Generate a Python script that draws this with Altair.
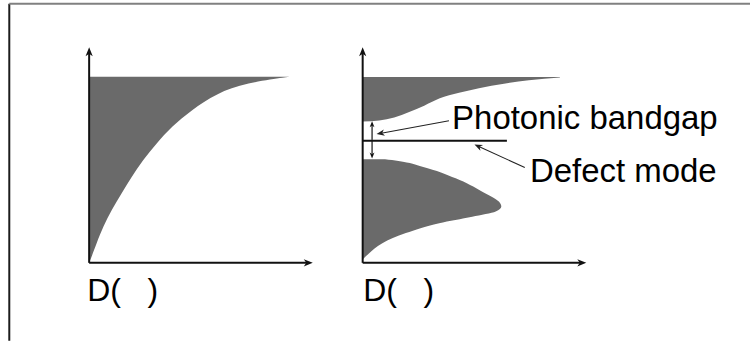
import math
import altair as alt
import pandas as pd

# Panel geometry (plot area of each panel, pixels) and data domains (arbitrary units)
W, H = 224, 216
X_MAX, Y_MAX = 10, 10
KX, KY = W / X_MAX, H / Y_MAX

FILL = "#6a6a6a"
INK = "#111111"
FONT = "Liberation Sans"

# Left panel: density of states of a uniform medium, D vs omega
free_omega = [0, 0.29, 0.91, 1.68, 2.45, 3.22, 3.98, 4.77, 5.54, 6.31, 7.08, 7.86, 8.35, 8.63]
free_dos = [0, 0.11, 0.33, 0.63, 1.0, 1.45, 1.89, 2.41, 3.01, 3.68, 4.57, 5.69, 7.03, 8.96]

# Right panel: upper band, its lower edge as a function of D, flat top at band_top
upper_dos = [0, 0.74, 1.41, 2.08, 2.75, 3.42, 4.31, 5.2, 6.32, 7.43, 8.82]
upper_edge = [6.55, 6.60, 6.74, 6.99, 7.29, 7.62, 7.89, 8.10, 8.31, 8.47, 8.60]
band_top = 8.62

# Right panel: lower band lobe, D as a function of omega
lower_omega = [0.15, 0.45, 0.91, 1.38, 1.84, 2.14, 2.38, 2.61, 2.84, 3.30, 3.92, 4.46, 4.72, 4.80]
lower_dos = [0, 0.29, 0.88, 1.93, 3.42, 4.90, 5.95, 6.20, 6.09, 5.35, 4.16, 2.67, 1.6, 1.0]

# Defect mode inside the gap and the gap marker
defect_omega = 5.66
defect_dos_end = 6.45
gap_x = 0.42
gap_lo, gap_hi = 4.84, 6.57

# Annotations
note_text = ["Photonic bandgap", "Defect mode"]
note_x = [4.0, 7.48]
note_y = [6.2, 3.76]
pointer_from = [(3.86, 6.59), (7.25, 4.42)]
pointer_to = [(0.62, 5.97), (5.0, 5.49)]

axis_label = "D(\u00a0\u00a0\u00a0)"
axis_label_y = -1.75

# Arrowhead glyph: tip at the origin, body extending along +y (pointing "up" at angle 0)
HEAD = "M0,0 L-0.4,1 L0,0.72 L0.4,1 Z"

xs = alt.Scale(domain=[0, X_MAX])
ys = alt.Scale(domain=[0, Y_MAX])


def X(f="x"):
    return alt.X(f"{f}:Q", scale=xs, axis=None)


def Y(f="y"):
    return alt.Y(f"{f}:Q", scale=ys, axis=None)


def arrows(starts, tips, head_px, width, color=INK):
    shafts, heads = [], []
    for (x0, y0), (x1, y1) in zip(starts, tips):
        dxp, dyp = (x1 - x0) * KX, (y1 - y0) * KY
        length = math.hypot(dxp, dyp)
        back = head_px * 0.6
        shafts.append(dict(x=x0, y=y0,
                           x2=x1 - dxp / length * back / KX,
                           y2=y1 - dyp / length * back / KY))
        heads.append(dict(x=x1, y=y1,
                          angle=math.degrees(math.atan2(dxp, dyp)) % 360))
    shaft = alt.Chart(pd.DataFrame(shafts)).mark_rule(
        strokeWidth=width, color=color
    ).encode(x=X(), y=Y(), x2="x2:Q", y2="y2:Q")
    head = alt.Chart(pd.DataFrame(heads)).mark_point(
        shape=HEAD, filled=True, size=(2 * head_px) ** 2,
        color=color, opacity=1, strokeWidth=0
    ).encode(x=X(), y=Y(), angle=alt.Angle("angle:Q", scale=None))
    return [shaft, head]


def axes():
    return arrows([(0, 0), (0, 0)], [(0, Y_MAX), (X_MAX, 0)], head_px=9, width=2)


def label(dx):
    return alt.Chart(pd.DataFrame({"x": [0], "y": [axis_label_y], "t": [axis_label]})).mark_text(
        align="left", baseline="alphabetic", font=FONT, fontSize=32, color="black", dx=dx
    ).encode(x=X(), y=Y(), text="t:N")


# ---- left panel ----
free_df = pd.DataFrame({"y": free_omega, "x": free_dos})
free_area = alt.Chart(free_df).mark_area(
    orient="horizontal", interpolate="basis", color=FILL, opacity=1
).encode(y=Y(), x=X(), x2=alt.datum(0))

one = pd.DataFrame({"a": [0]})
frame_left = alt.Chart(one).mark_rule(color="#1c1c1c", strokeWidth=2).encode(
    x=alt.value(-80), y=alt.value(-43.5), y2=alt.value(294)
)
frame_top = alt.Chart(one).mark_rule(color="#808080", strokeWidth=2).encode(
    x=alt.value(-80), x2=alt.value(662), y=alt.value(-43.5)
)

left = alt.layer(
    free_area, *axes(), label(-2), frame_left, frame_top
).properties(width=W, height=H)

# ---- right panel ----
upper_df = pd.DataFrame({"x": upper_dos, "y": upper_edge})
upper_area = alt.Chart(upper_df).mark_area(
    orient="vertical", interpolate="monotone", color=FILL, opacity=1
).encode(x=X(), y=Y(), y2=alt.datum(band_top))

lower_df = pd.DataFrame({"y": lower_omega, "x": lower_dos})
lower_area = alt.Chart(lower_df).mark_area(
    orient="horizontal", interpolate="monotone", color=FILL, opacity=1
).encode(y=Y(), x=X(), x2=alt.datum(0))

defect = alt.Chart(pd.DataFrame({"x": [0], "x2": [defect_dos_end], "y": [defect_omega]})).mark_rule(
    strokeWidth=2, color=INK
).encode(x=X(), x2="x2:Q", y=Y())

gap_mid = (gap_lo + gap_hi) / 2
gap_arrows = arrows([(gap_x, gap_mid), (gap_x, gap_mid)], [(gap_x, gap_hi), (gap_x, gap_lo)],
                    head_px=6, width=1.2)
pointer_arrows = arrows(pointer_from, pointer_to, head_px=8, width=1.1, color="#222222")

notes = alt.Chart(pd.DataFrame({"x": note_x, "y": note_y, "t": note_text})).mark_text(
    align="left", baseline="alphabetic", font=FONT, fontSize=33, color="black"
).encode(x=X(), y=Y(), text="t:N")

right = alt.layer(
    upper_area, lower_area, defect, *gap_arrows, *pointer_arrows, notes, *axes(), label(0.5)
).properties(width=W, height=H)

chart = alt.hconcat(left, right, spacing=50, bounds="flush").properties(
    padding={"left": 8.3, "top": 2, "right": 0, "bottom": 0},
    background="white",
).configure_view(strokeWidth=0)

chart.save("out.html", embed_options={"renderer": "svg", "actions": False})
